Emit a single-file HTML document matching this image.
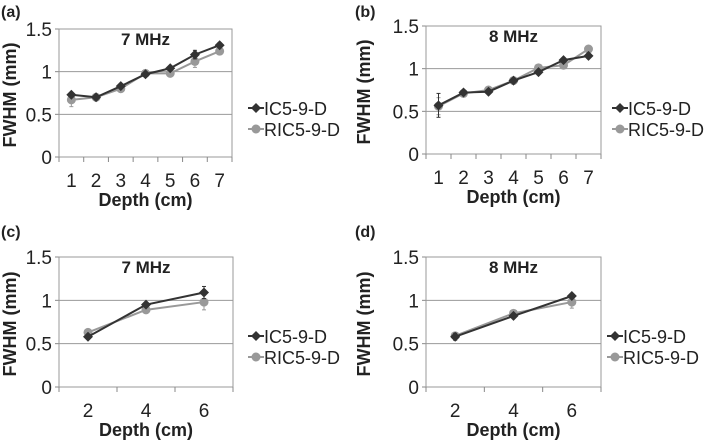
<!DOCTYPE html>
<html><head><meta charset="utf-8"><style>
body{margin:0;background:#fff;width:709px;height:440px;overflow:hidden}
svg{font-family:"Liberation Sans",sans-serif}
</style></head><body>
<svg id="svg" width="709" height="440"></svg>
<script>
const catsA=[1,2,3,4,5,6,7];
const catsC=[2,4,6];
const icA=[0.73,0.70,0.83,0.97,1.04,1.20,1.31];
const ricA=[0.67,0.70,0.80,0.98,0.98,1.12,1.24];
const icErrA=[0.02,0.02,0.02,0.02,0.02,0.05,0.03];
const ricErrA=[0.08,0.02,0.02,0.02,0.02,0.07,0.03];
const icB=[0.57,0.72,0.73,0.86,0.96,1.10,1.15];
const ricB=[0.56,0.71,0.75,0.86,1.01,1.04,1.23];
const icErrB=[0.14,0.02,0.02,0.02,0.02,0.02,0.02];
const ricErrB=[0.10,0.02,0.02,0.02,0.02,0.02,0.02];
const icC=[0.58,0.95,1.09];
const ricC=[0.63,0.89,0.98];
const icErrC=[0.02,0.02,0.07];
const ricErrC=[0.02,0.02,0.09];
const icD=[0.58,0.82,1.05];
const ricD=[0.59,0.85,0.98];
const icErrD=[0.04,0.02,0.02];
const ricErrD=[0.04,0.02,0.07];
const yTicks=[0,0.5,1,1.5];
const yLabels=["0","0.5","1","1.5"];
const panels=[
 {id:'a',label:'(a)',title:'7 MHz',cats:catsA,ic:icA,ric:ricA,ie:icErrA,re:ricErrA,L:59,R:232,T:29,B:157,ox:0,oy:0,lx:248,ly:108},
 {id:'b',label:'(b)',title:'8 MHz',cats:catsA,ic:icB,ric:ricB,ie:icErrB,re:ricErrB,L:426,R:601,T:26,B:154,ox:354,oy:0,lx:612,ly:108},
 {id:'c',label:'(c)',title:'7 MHz',cats:catsC,ic:icC,ric:ricC,ie:icErrC,re:ricErrC,L:59,R:233,T:257,B:387,ox:0,oy:220,lx:248,ly:336},
 {id:'d',label:'(d)',title:'8 MHz',cats:catsC,ic:icD,ric:ricD,ie:icErrD,re:ricErrD,L:426,R:601,T:257,B:387,ox:354,oy:220,lx:607,ly:336}
];
const svg=document.getElementById('svg');
const NS='http://www.w3.org/2000/svg';
function mk(tag,attrs,parent,text){const e=document.createElementNS(NS,tag);for(const k in attrs)e.setAttribute(k,attrs[k]);if(text!==undefined)e.textContent=text;parent.appendChild(e);return e;}
function diamond(g,x,y,c){return mk('polygon',{points:`${x},${y-5} ${x+5},${y} ${x},${y+5} ${x-5},${y}`,fill:c},g);}
panels.forEach(p=>{
 const g=mk('g',{},svg);
 
 
 const n=p.cats.length, w=(p.R-p.L)/n;
 const X=i=>p.L+w*(i+0.5);
 const Y=v=>p.B-(v/1.5)*(p.B-p.T);
 const lb=mk('text',{x:p.ox+1,y:p.oy+17,'font-size':16,'font-weight':'bold',fill:'#222'},g,p.label);
 
 
 yTicks.forEach((t,i)=>{
  if(t>0&&t<1.5){const gl=mk('line',{x1:p.L,x2:p.R,y1:Y(t),y2:Y(t),stroke:'#999','stroke-width':1},g);
   }
  mk('line',{x1:p.L-4,x2:p.L,y1:Y(t),y2:Y(t),stroke:'#888'},g);
  const tl=mk('text',{x:p.L-7,y:Y(t)+7,'font-size':19,'text-anchor':'end',fill:'#222'},g,yLabels[i]);
  
 });
 mk('rect',{x:p.L,y:p.T,width:p.R-p.L,height:p.B-p.T,fill:'none',stroke:'#999'},g);
 for(let i=0;i<=n;i++)mk('line',{x1:p.L+w*i,x2:p.L+w*i,y1:p.B,y2:p.B+5,stroke:'#888'},g);
 p.cats.forEach((c,i)=>{const t=mk('text',{x:X(i),y:p.B+30,'font-size':19,'text-anchor':'middle',fill:'#222'},g,String(c));
  });
 const xt=mk('text',{x:(p.L+p.R)/2,y:p.B+49,'font-size':18,'font-weight':'bold','text-anchor':'middle',fill:'#222'},g,'Depth (cm)');
 
 const yc=(p.T+p.B)/2+2, yx=p.ox+16;
 const yt=mk('text',{x:yx,y:yc,'font-size':18,'font-weight':'bold','text-anchor':'middle',fill:'#222',transform:`rotate(-90 ${yx} ${yc})`},g,'FWHM (mm)');
 
 const tt=mk('text',{x:(p.L+p.R)/2,y:p.T+16,'font-size':17,'font-weight':'bold','text-anchor':'middle',fill:'#222'},g,p.title);
 
 [['ric',p.ric,p.re,'#999'],['ic',p.ic,p.ie,'#333']].forEach(([nm,vals,errs,col])=>{
  const s=mk('g',{},g);
  
  vals.forEach((v,i)=>{mk('line',{x1:X(i),x2:X(i),y1:Y(v+errs[i]),y2:Y(v-errs[i]),stroke:col},s);
   mk('line',{x1:X(i)-2,x2:X(i)+2,y1:Y(v+errs[i]),y2:Y(v+errs[i]),stroke:col},s);
   mk('line',{x1:X(i)-2,x2:X(i)+2,y1:Y(v-errs[i]),y2:Y(v-errs[i]),stroke:col},s);});
  mk('polyline',{points:vals.map((v,i)=>X(i)+','+Y(v)).join(' '),fill:'none',stroke:col,'stroke-width':2},s);
  vals.forEach((v,i)=>{const m=nm==='ic'?diamond(s,X(i),Y(v),col):mk('circle',{cx:X(i),cy:Y(v),r:4.5,fill:col},s);
   });
 });
 const lx=p.lx, ly1=p.ly, ly2=ly1+21;
 [['IC5-9-D','#333',ly1,'ic'],['RIC5-9-D','#999',ly2,'ric']].forEach(([t,col,ly,nm])=>{
  const lg=mk('g',{},g);
  mk('line',{x1:lx,x2:lx+16,y1:ly,y2:ly,stroke:col,'stroke-width':2},lg);
  if(nm==='ic')diamond(lg,lx+8,ly,col);else mk('circle',{cx:lx+8,cy:ly,r:4.5,fill:col},lg);
  mk('text',{x:lx+16,y:ly+7,'font-size':18,fill:'#222'},lg,t);
 });
});
</script>
</body></html>
